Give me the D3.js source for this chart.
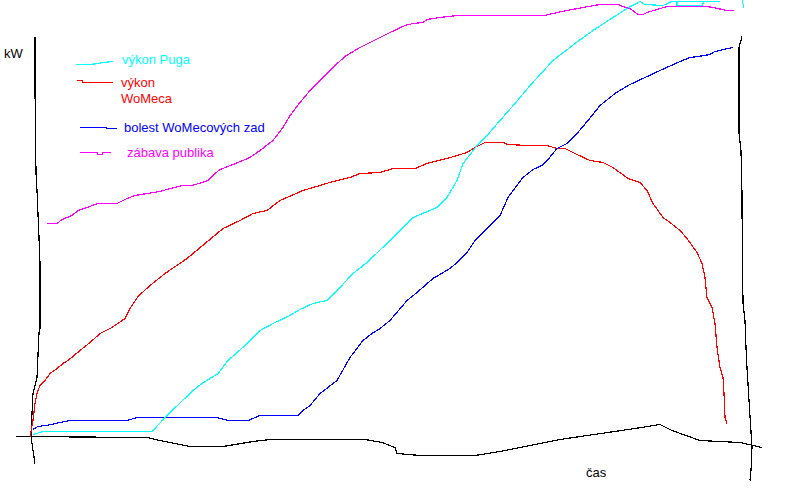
<!DOCTYPE html>
<html><head><meta charset="utf-8">
<script src="https://cdn.jsdelivr.net/npm/d3@7"></script>
<style>
html,body{margin:0;padding:0;background:#fff;}
svg{display:block;}
text{font-family:Arial,"Liberation Sans",sans-serif;font-size:13px;}
</style></head><body>
<script>
// time (x) and kW (y, above the baseline) readings of each hand-drawn curve
const vykonPugaT = [33,43,72,152,167,193,202,218,228,245,260,275,290,300,313,327,337,353,367,390,413,437,447,457,463,477,487,500,515,530,553,575,593,613,627,640,645,663,672,720];
const vykonPugaKW = [1,4,4,4,20,45,52,62,75,90,105,113,120,126,132,135,145,162,173,195,218,228,238,255,272,290,300,315,332,350,375,392,405,418,427,434,431,430,434,434];
const pugaLoopT = [677,677,702,704];
const pugaLoopKW = [434,430,430,434];
const pugaTickT = [742,744];
const pugaTickKW = [435,428];

const vykonWoMecaT = [30,33,35,37,40,45,50,57,63,68,80,90,100,112,125,130,138,150,165,187,205,223,240,253,267,280,303,320,333,350,360,380,393,415,427,447,467,477,485,503,508,527,547,557,565,577,590,603,613,628,640,647,653,663,670,680,687,697,702,705,707,712,715,717,720,723,724,725,727];
const vykonWoMecaKW = [-1,15,32,42,50,55,62,67,72,75,85,93,102,108,117,127,139,150,162,177,192,207,215,222,225,235,245,250,254,258,262,263,267,267,272,277,283,289,293,293,291,290,290,287,287,281,275,273,268,257,253,245,232,218,213,205,197,183,172,158,138,128,112,88,68,58,42,18,12];

const bolestT = [33,38,52,60,70,127,137,217,228,248,260,298,303,310,320,337,350,363,372,380,390,407,417,433,450,457,467,475,490,500,508,523,533,542,548,557,567,577,588,600,615,630,645,660,680,690,698,710,715,720,728,733];
const bolestKW = [6,9,11,13,15,15,18,18,15,15,20,20,25,30,42,55,78,95,102,107,115,135,143,157,167,173,183,195,210,220,238,258,266,270,276,287,292,302,315,330,342,351,358,365,374,378,379,381,384,385,387,388];

const zabavaT = [47,57,62,72,78,87,98,117,127,135,147,160,170,183,192,202,208,215,220,233,250,260,273,283,290,300,310,320,335,345,360,380,390,405,413,423,427,440,457,545,553,567,583,600,618,623,630,638,643,647,657,667,707,713,727,734];
const zabavaKW = [212,212,216,220,225,228,232,232,237,240,242,244,247,250,250,253,255,262,266,271,278,285,295,308,320,333,345,355,370,379,388,398,403,410,412,413,416,418,420,420,422,425,428,431,431,429,427,421,421,423,426,429,429,428,425,425];

// hand-drawn axes
const axisLeftT = [35,35,36,37,39,40,40,39,37,35,33,31,32,35];
const axisLeftKW = [399,347,263,245,198,172,107,103,58,50,42,2,-8,-28];
const axisRightT = [742,739,739,741,742,742,743,745,746,747,749,752,751,750];
const axisRightKW = [399,388,302,285,242,228,132,115,88,68,35,-12,-35,-45];
const axisBottomT = [16,147,160,190,223,253,270,320,365,382,395,397,420,475,500,560,635,660,672,700,740,762];
const axisBottomKW = [-1,-2,-5,-11,-11,-6,-4,-4,-4,-7,-12,-18,-20,-20,-16,-4,7,11,5,-5,-7,-12];

const seriesNames = ["výkon Puga", "výkon WoMeca", "bolest WoMecových zad", "zábava publika"];
const seriesColors = ["#00ffff", "#ff0000", "#0000ff", "#ff00ff"];

const W = 786, H = 491;
const svg = d3.select("body").append("svg").attr("width", W).attr("height", H);
const x = d3.scaleLinear().domain([0, 786]).range([0, 786]);
const y = d3.scaleLinear().domain([0, 435]).range([435.5, 0.5]);

const line = d3.line().x(d => x(d[0])).y(d => y(d[1])).curve(d3.curveLinear);
const zip = (a, b) => a.map((v, i) => [v, b[i]]);

function draw(t, k, color) {
  svg.append("path").datum(zip(t, k)).attr("d", line)
    .attr("fill", "none").attr("stroke", color).attr("stroke-width", 1.2)
    .attr("shape-rendering", "crispEdges");
}

draw(axisLeftT, axisLeftKW, "#000");
draw(axisRightT, axisRightKW, "#000");
draw(axisBottomT, axisBottomKW, "#000");
draw(zabavaT, zabavaKW, seriesColors[3]);
draw(vykonWoMecaT, vykonWoMecaKW, seriesColors[1]);
draw(bolestT, bolestKW, seriesColors[2]);
draw(vykonPugaT, vykonPugaKW, seriesColors[0]);
draw(pugaLoopT, pugaLoopKW, seriesColors[0]);
draw(pugaTickT, pugaTickKW, seriesColors[0]);

// axis labels
svg.append("text").attr("x", 4).attr("y", 58).attr("fill", "#000").text("kW");
svg.append("text").attr("x", 586).attr("y", 477).attr("fill", "#000").text("čas");

// legend (hand-drawn samples)
const legend = [
  {pts: [[76,64],[90,64],[98,63],[103,62],[113,61]], tx: 122, ty: 64, lines: [seriesNames[0]], c: seriesColors[0]},
  {pts: [[77,80],[82,80],[83,82],[113,82]], tx: 121, ty: 87, lines: ["výkon", "WoMeca"], c: seriesColors[1]},
  {pts: [[80,127],[106,127],[107,128],[117,128]], tx: 124, ty: 132, lines: [seriesNames[2]], c: seriesColors[2]},
  {pts: [[80,152],[97,152],[98,154],[102,154],[103,152],[111,152]], tx: 127, ty: 157, lines: [seriesNames[3]], c: seriesColors[3]}
];
const pl = d3.line();
legend.forEach(l => {
  svg.append("path").attr("d", pl(l.pts.map(p => [p[0], p[1] + 0.5])))
    .attr("fill", "none").attr("stroke", l.c).attr("stroke-width", 1.2)
    .attr("shape-rendering", "crispEdges");
  const t = svg.append("text").attr("x", l.tx).attr("y", l.ty).attr("fill", l.c);
  l.lines.forEach((s, i) => t.append("tspan").attr("x", l.tx).attr("dy", i ? 16 : 0).text(s));
});
</script>
</body></html>
